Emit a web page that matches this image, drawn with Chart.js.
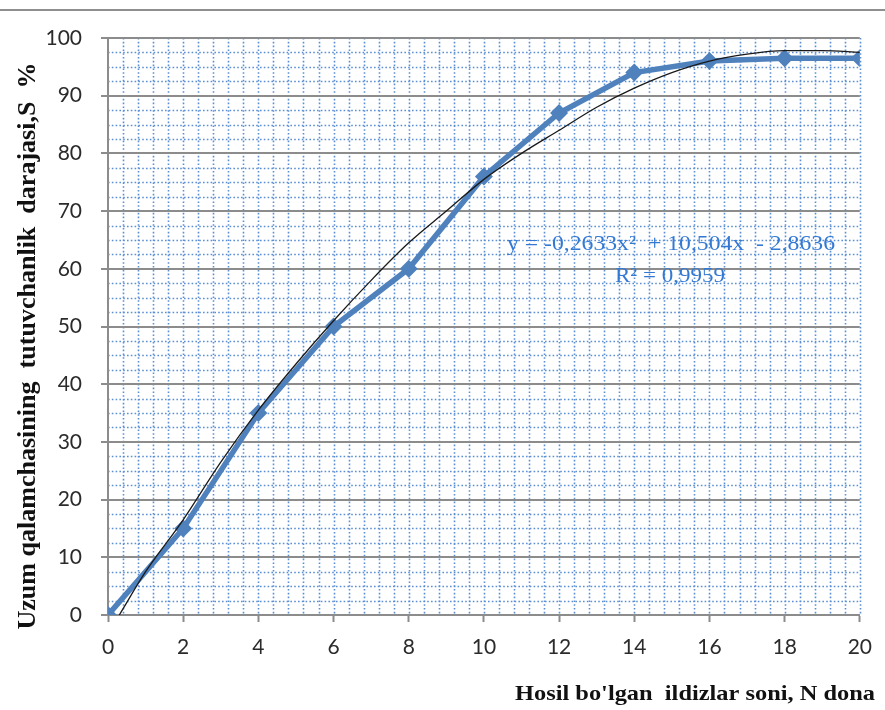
<!DOCTYPE html>
<html lang="uz">
<head>
    <meta charset="UTF-8">
    <title>Uzum qalamchasining tutuvchanlik darajasi</title>
    <script src="https://cdn.jsdelivr.net/npm/chart.js"></script>
    <style>
        body {
            margin: 0;
            background: #fff;
        }
        canvas {
            display: block;
        }
    </style>
</head>
<body>
    <canvas id="rootChart" width="885" height="710"></canvas>

    <script>
        // Measured points (N roots -> survival %)
        const rootCounts = [0, 2, 4, 6, 8, 10, 12, 14, 16, 18, 20];
        const survival = [0, 15, 35, 50, 60, 76, 87, 94, 96, 96.5, 96.5];

        // Polynomial trend curve
        const trendX = [0.3, 1, 2, 3, 4, 5, 6, 7, 8, 9, 10, 11, 12, 13, 14, 15, 16, 17, 18, 19, 20];
        const trendY = [0, 7.5, 16.5, 26.5, 35.5, 43.5, 51, 58, 64.5, 70, 75.5, 80, 84, 88, 91.3, 94, 96, 97.2, 97.8, 97.8, 97.5];

        const xTicks = [0, 2, 4, 6, 8, 10, 12, 14, 16, 18, 20];
        const yTicks = [0, 10, 20, 30, 40, 50, 60, 70, 80, 90, 100];

        const xTitle = "Hosil bo'lgan  ildizlar soni, N dona";
        const yTitle = 'Uzum qalamchasining  tutuvchanlik  darajasi,S  %';
        const equation = 'y = -0,2633x²  + 10,504x  - 2,8636';
        const rSquared = 'R² = 0,9959';

        const blue = '#4f81bd';
        const axisGray = '#8c8c8c';

        // squeeze/stretch a string to a given width
        function drawFitted(ctx, text, cx, cy, width, angle) {
            ctx.save();
            ctx.translate(cx, cy);
            ctx.rotate(angle);
            const w = ctx.measureText(text).width;
            ctx.scale(width / w, 1);
            ctx.textAlign = 'center';
            ctx.textBaseline = 'alphabetic';
            ctx.fillText(text, 0, 0);
            ctx.restore();
        }

        const decor = {
            id: 'decor',
            beforeDraw(chart) {
                const { ctx, chartArea: a, scales: { x, y } } = chart;
                ctx.save();
                ctx.strokeStyle = '#5b8fd4';
                ctx.lineWidth = 1.6;
                ctx.setLineDash([1.6, 2.2]);
                // dotted minor grid
                for (let i = 1; i < 40; i++) {
                    if (i % 4 === 0) continue;
                    const py = Math.round(y.getPixelForValue(i * 2.5)) + 0.5;
                    ctx.beginPath();
                    ctx.moveTo(a.left, py);
                    ctx.lineTo(a.right, py);
                    ctx.stroke();
                }
                for (let i = 1; i <= 50; i++) {
                    const px = Math.round(x.getPixelForValue(i * 0.4)) + 0.5;
                    ctx.beginPath();
                    ctx.moveTo(px, a.top);
                    ctx.lineTo(px, a.bottom);
                    ctx.stroke();
                }
                ctx.restore();
            },
            afterDraw(chart) {
                const ctx = chart.ctx;
                ctx.save();
                // outer frame line at the top
                ctx.strokeStyle = '#8f8f8f';
                ctx.lineWidth = 2;
                ctx.beginPath();
                ctx.moveTo(0, 10);
                ctx.lineTo(chart.width, 10);
                ctx.stroke();

                ctx.fillStyle = '#111';
                ctx.font = 'bold 26px "Liberation Serif", serif';
                drawFitted(ctx, yTitle, 35, 346, 567, -Math.PI / 2);
                ctx.font = 'bold 22px "Liberation Serif", serif';
                drawFitted(ctx, xTitle, 695, 700, 360, 0);

                ctx.fillStyle = '#3379d3';
                ctx.font = '21px "Liberation Serif", serif';
                drawFitted(ctx, equation, 671, 250, 328, 0);
                drawFitted(ctx, rSquared, 670, 282, 110, 0);
                ctx.restore();
            }
        };

        const tickFont = { family: 'Lato, sans-serif', size: 21 };

        const ctx = document.getElementById('rootChart').getContext('2d');
        const rootChart = new Chart(ctx, {
            type: 'line',
            data: {
                datasets: [{
                    label: 'Trend',
                    data: trendX.map((v, i) => ({ x: v, y: trendY[i] })),
                    borderColor: '#1a1a1a',
                    borderWidth: 1.3,
                    pointRadius: 0,
                    cubicInterpolationMode: 'monotone',
                    fill: false
                }, {
                    label: 'S, %',
                    data: rootCounts.map((v, i) => ({ x: v, y: survival[i] })),
                    borderColor: blue,
                    backgroundColor: blue,
                    borderWidth: 5.5,
                    pointStyle: 'rectRot',
                    pointRadius: 9,
                    pointBorderWidth: 0,
                    tension: 0,
                    fill: false
                }]
            },
            options: {
                responsive: false,
                animation: false,
                layout: {
                    padding: { top: 38, right: 23, bottom: 35, left: 0 }
                },
                plugins: {
                    legend: { display: false },
                    tooltip: { enabled: false }
                },
                scales: {
                    x: {
                        type: 'linear',
                        min: 0,
                        max: 20,
                        afterFit: s => { s.height = 60; },
                        afterBuildTicks: s => { s.ticks = xTicks.map(v => ({ value: v })); },
                        ticks: { font: tickFont, color: '#2b2b2b', padding: 13, maxRotation: 0 },
                        grid: {
                            drawOnChartArea: false,
                            drawTicks: true,
                            tickLength: 7,
                            tickColor: axisGray,
                            tickWidth: 2
                        },
                        border: { color: axisGray, width: 2 }
                    },
                    y: {
                        min: 0,
                        max: 100,
                        afterFit: s => { s.width = 108; },
                        afterBuildTicks: s => { s.ticks = yTicks.map(v => ({ value: v })); },
                        ticks: { font: tickFont, color: '#2b2b2b', padding: 19 },
                        grid: {
                            color: axisGray,
                            lineWidth: 2,
                            tickLength: 7,
                            tickColor: axisGray,
                            tickWidth: 2
                        },
                        border: { color: axisGray, width: 2 }
                    }
                }
            },
            plugins: [decor]
        });
    </script>
</body>
</html>
